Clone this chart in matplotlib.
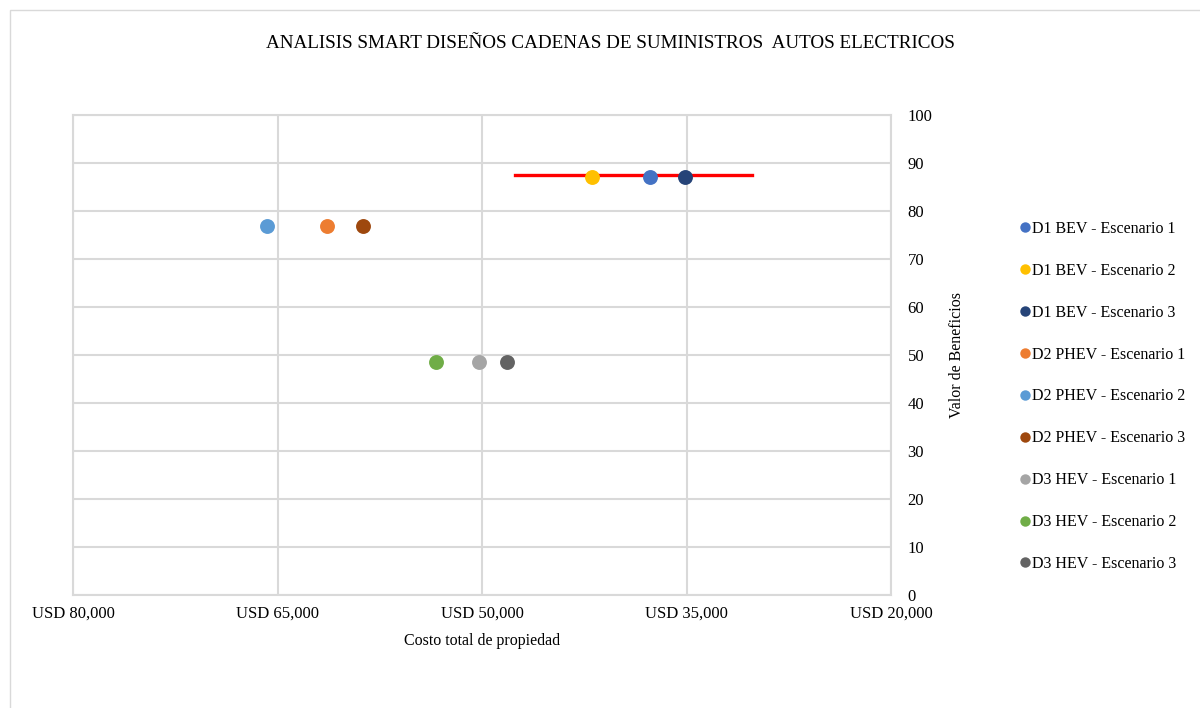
import matplotlib
matplotlib.use("Agg")
import matplotlib.pyplot as plt
from matplotlib.lines import Line2D
from matplotlib.patches import Rectangle
from matplotlib.ticker import FuncFormatter

plt.rcParams['font.family'] = ['Liberation Serif', 'DejaVu Serif']

# scenario labels, colors and (cost, benefit) values
labels = ['D1 BEV - Escenario 1', 'D1 BEV - Escenario 2', 'D1 BEV - Escenario 3',
          'D2 PHEV - Escenario 1', 'D2 PHEV - Escenario 2', 'D2 PHEV - Escenario 3',
          'D3 HEV - Escenario 1', 'D3 HEV - Escenario 2', 'D3 HEV - Escenario 3']
colors = ['#4472C4', '#FFC000', '#264478',
          '#ED7D31', '#5B9BD5', '#9E480E',
          '#A5A5A5', '#70AD47', '#636363']
costo = [37700, 41900, 35100,
         61400, 65800, 58700,
         50200, 53400, 48200]
beneficio = [87.1, 87.1, 87.1,
             76.9, 76.9, 76.9,
             48.5, 48.5, 48.5]

# reference line across the BEV group
linea_x = [47600, 30200]
linea_y = [87.5, 87.5]

xticks = [80000, 65000, 50000, 35000, 20000]
yticks = list(range(0, 101, 10))

fig = plt.figure(figsize=(12, 7.08), dpi=100)
fig.patches.append(Rectangle((10/1200, -0.1), 1.2, 1 - 10/708 + 0.1,
                             transform=fig.transFigure, fill=False,
                             edgecolor='#d9d9d9', linewidth=1))

ax = fig.add_axes([73/1200, 1 - 595/708, 818/1200, 480/708])
grid_c = '#d9d9d9'

ax.set_xlim(80000, 20000)
ax.set_ylim(0, 100)
ax.set_xticks(xticks)
ax.set_yticks(yticks)
ax.xaxis.set_major_formatter(FuncFormatter(lambda v, p: 'USD {:,.0f}'.format(v)))
ax.grid(True, color=grid_c, linewidth=1.5)
ax.set_axisbelow(True)
for s in ax.spines.values():
    s.set_color(grid_c)
    s.set_linewidth(1.5)

ax.yaxis.tick_right()
ax.yaxis.set_label_position('right')
ax.tick_params(axis='both', length=0, labelsize=12, colors='#000000')
ax.tick_params(axis='y', pad=12)
ax.tick_params(axis='x', pad=8)
for t in ax.get_yticklabels():
    t.set_horizontalalignment('left')

ax.plot(linea_x, linea_y, color='#FF0000', linewidth=2.4, zorder=2)
for x, y, c in zip(costo, beneficio, colors):
    ax.scatter(x, y, s=115, color=c, zorder=3, linewidths=0)

ax.set_xlabel('Costo total de propiedad', fontsize=11.5, labelpad=8)
ax.set_ylabel('Valor de Beneficios', fontsize=11.5, labelpad=12)

fig.text(610/1200, 1 - 43/708, 'ANALISIS SMART DISEÑOS CADENAS DE SUMINISTROS  AUTOS ELECTRICOS',
         ha='center', va='center', fontsize=13.8)

handles = [Line2D([], [], marker='o', linestyle='', markersize=7.5,
                  markerfacecolor=c, markeredgewidth=0) for c in colors]
fig.legend(handles, labels, loc='upper left', bbox_to_anchor=(1020/1200, 1 - 221/708),
           frameon=False, fontsize=11.5, labelspacing=1.62, handlelength=0.6,
           handletextpad=0.15, borderpad=0, borderaxespad=0)

fig.savefig('out.png', dpi=100)
